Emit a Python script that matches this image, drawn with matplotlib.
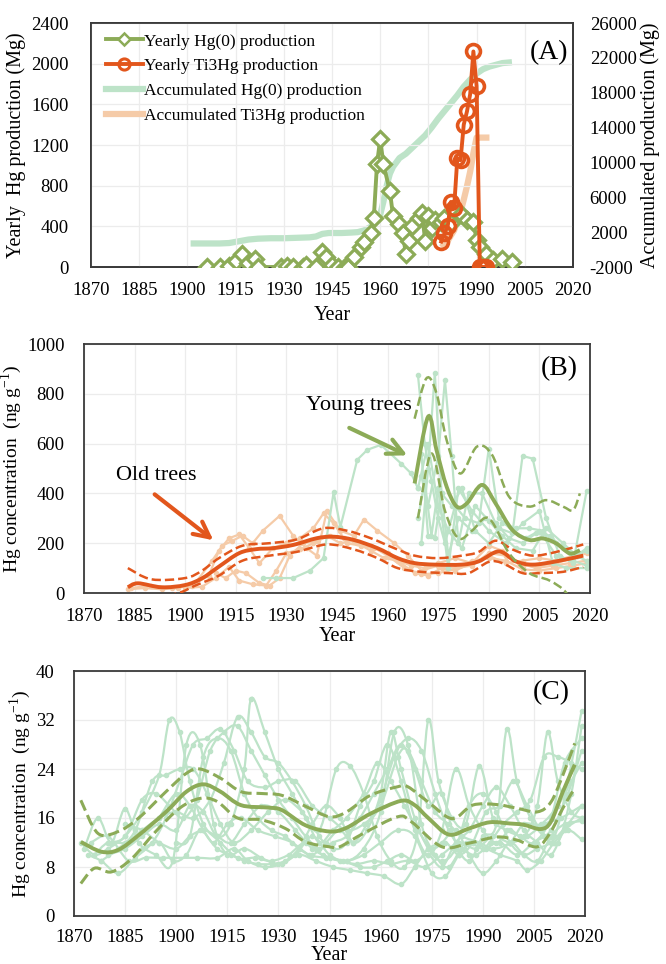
import matplotlib
matplotlib.use("Agg")
import matplotlib.pyplot as plt
from matplotlib.lines import Line2D
from matplotlib.path import Path
from matplotlib.patches import PathPatch

# ============================== data =========================================

# (A) production
hg0_year = [1906, 1910, 1913, 1915, 1917, 1919, 1921, 1922, 1929, 1931, 1933, 1936, 1937, 1940,
            1942, 1943, 1945, 1947, 1949, 1950, 1952, 1954, 1955, 1957, 1958, 1959, 1960, 1961,
            1963, 1964, 1966, 1967, 1968, 1969, 1970, 1972, 1973, 1974, 1975, 1976, 1977, 1979,
            1980, 1982, 1985, 1987, 1989, 1990, 1991, 1993, 1995, 1998, 2001]
hg0_prod = [0, 0, 10, 60, 130, 40, 80, 0, 0, 10, 0, 0, 20, 0,
            150, 100, 20, 0, 0, 0, 100, 200, 250, 330, 480, 1010, 1260, 1010,
            750, 500, 420, 330, 130, 260, 400, 480, 530, 260, 500, 380, 460, 440,
            480, 430, 520, 460, 440, 270, 200, 130, 70, 80, 50]

ti_year = [1979, 1980, 1981, 1982, 1983, 1984, 1985, 1986, 1987, 1988, 1989, 1990, 1991, 1992, 1993]
ti_prod = [250, 330, 400, 640, 580, 1070, 1050, 1400, 1530, 1700, 2120, 1780, 0, 0, 0]

acc_hg0_year = [1901, 1905, 1910, 1913, 1916, 1919, 1922, 1926, 1930, 1934, 1938, 1940, 1942, 1944,
                1948, 1951, 1953, 1955, 1957, 1958, 1959, 1960, 1961, 1962, 1963, 1964, 1966, 1968,
                1970, 1972, 1974, 1976, 1978, 1980, 1982, 1984, 1986, 1988, 1990, 1992, 1994, 1996,
                1998, 2001]
acc_hg0 = [700, 700, 700, 750, 950, 1150, 1250, 1300, 1300, 1350, 1400, 1500, 1800, 1900,
           1900, 1950, 2000, 2200, 2600, 3000, 3500, 4000, 5500, 7300, 8700, 9500, 10500, 11000,
           11700, 12400, 13100, 14000, 15000, 15900, 16800, 17700, 18700, 19500, 20200, 20700, 21000, 21200,
           21400, 21500]

acc_ti_year = [1979, 1980, 1981, 1982, 1983, 1984, 1985, 1986, 1987, 1988, 1989, 1990, 1991, 1992, 1993, 1994]
acc_ti = [250, 580, 980, 1620, 2200, 3270, 4320, 5720, 7250, 8950, 11070, 12850, 12850, 12850, 12850, 12850]

# (B) old trees, individual
old_1_year = [1883, 1888, 1893, 1898, 1903, 1908, 1911, 1914, 1917, 1920, 1923, 1928, 1932, 1936, 1939,
              1942, 1946, 1950, 1953, 1957, 1962, 1966, 1970, 1975, 1980, 1985, 1990, 1995, 2000,
              2005, 2010, 2015, 2019]
old_1 = [15, 20, 15, 20, 40, 130, 190, 210, 230, 200, 250, 310, 230, 180, 150,
         330, 250, 230, 295, 250, 200, 150, 90, 110, 100, 110, 160, 150, 110,
         110, 120, 140, 160]
old_2_year = [1884, 1890, 1896, 1902, 1907, 1910, 1913, 1916, 1919, 1922, 1926, 1930, 1934, 1938, 1941,
              1944, 1948, 1952, 1956, 1960, 1964, 1968, 1972, 1976, 1980, 1985, 1990, 1994, 1999,
              2004, 2009, 2014, 2019]
old_2 = [20, 30, 20, 30, 70, 170, 220, 235, 180, 120, 180, 200, 220, 260, 320,
         280, 200, 190, 180, 160, 120, 80, 70, 100, 90, 120, 190, 170, 120,
         100, 110, 120, 130]
old_3_year = [1900, 1905, 1909, 1913, 1916, 1920, 1924, 1927, 1930, 1934, 1938, 1942, 1946, 1950, 1955,
              1960, 1965, 1970, 1975, 1980, 1985, 1990, 1995, 2000, 2005, 2010, 2015, 2019]
old_3 = [20, 25, 60, 105, 50, 35, 30, 90, 160, 175, 200, 230, 200, 210, 190,
         150, 100, 75, 80, 95, 130, 140, 130, 95, 90, 100, 110, 120]
old_4_year = [1909, 1912, 1915, 1918, 1922, 1925, 1928, 1931, 1935, 1939, 1943, 1947, 1951, 1955, 1959,
              1963, 1967, 1971, 1975, 1980, 1985, 1990, 1995, 2000, 2005, 2010, 2015, 2019]
old_4 = [80, 60, 90, 80, 40, 30, 60, 150, 200, 210, 230, 220, 200, 170, 140,
         130, 110, 100, 120, 140, 120, 150, 120, 130, 140, 130, 150, 170]

# (B) old trees, mean and confidence band
old_mean_year = [1883, 1886, 1893, 1900, 1905, 1910, 1916, 1921, 1926, 1932, 1939, 1944, 1950, 1957,
                 1963, 1968, 1974, 1982, 1987, 1993, 1998, 2003, 2010, 2018]
old_mean = [23, 39, 23, 32, 59, 106, 160, 176, 180, 193, 220, 226, 213, 180,
            140, 120, 114, 114, 127, 167, 127, 114, 127, 150]
old_up_year = [1883, 1890, 1900, 1905, 1910, 1917, 1925, 1933, 1941, 1948, 1955, 1962, 1968, 1975,
               1982, 1987, 1992, 1997, 2003, 2010, 2018]
old_up = [100, 55, 60, 90, 140, 190, 200, 215, 260, 250, 220, 180, 150, 140,
          150, 165, 210, 175, 150, 165, 195]
old_lo_year = [1883, 1890, 1898, 1903, 1910, 1917, 1925, 1933, 1942, 1950, 1957, 1963, 1970, 1978,
               1984, 1990, 1994, 2000, 2005, 2012, 2018]
old_lo = [-10, -20, 0, 30, 70, 130, 150, 165, 195, 175, 140, 100, 85, 80,
          80, 125, 120, 80, 80, 85, 105]

# (B) young trees, individual
young_0_year = [1923, 1927, 1932, 1937, 1941, 1944, 1946, 1951, 1954, 1958, 1964, 1967, 1969]
young_0 = [60, 60, 60, 90, 140, 405, 265, 535, 575, 595, 520, 480, 420]
young_1_year = [1969, 1971, 1973, 1975, 1977, 1980, 1983, 1987, 1990, 1993, 1997, 2001, 2005, 2010, 2015, 2019]
young_1 = [875, 600, 450, 300, 200, 350, 300, 280, 580, 300, 250, 220, 250, 150, 130, 110]
young_2_year = [1970, 1972, 1974, 1976, 1978, 1981, 1985, 1989, 1993, 1997, 2000, 2003, 2007, 2011, 2015, 2019]
young_2 = [200, 500, 885, 400, 150, 300, 250, 300, 260, 240, 550, 540, 300, 150, 120, 410]
young_3_year = [1970, 1972, 1975, 1977, 1979, 1981, 1984, 1988, 1992, 1996, 2000, 2004, 2008, 2012, 2016, 2019]
young_3 = [470, 350, 550, 855, 550, 200, 400, 400, 280, 220, 200, 240, 230, 180, 150, 180]
young_4_year = [1970, 1972, 1974, 1976, 1979, 1982, 1986, 1990, 1994, 1998, 2002, 2006, 2010, 2014, 2019]
young_4 = [560, 230, 220, 400, 350, 420, 250, 200, 280, 260, 260, 250, 200, 160, 130]
young_5_year = [1969, 1971, 1973, 1975, 1978, 1981, 1985, 1990, 1995, 2000, 2005, 2009, 2013, 2019]
young_5 = [300, 450, 230, 420, 100, 420, 330, 250, 200, 280, 330, 120, 100, 100]
young_6_year = [1969, 1972, 1975, 1978, 1982, 1986, 1990, 1994, 1998, 2003, 2007, 2012, 2016, 2019]
young_6 = [420, 600, 350, 250, 180, 350, 290, 230, 180, 170, 260, 200, 150, 170]

# (B) young trees, mean and confidence band
young_mean_year = [1968, 1972, 1974.5, 1977.5, 1980.5, 1983.5, 1988, 1992, 1997, 2002, 2006, 2010, 2014, 2017]
young_mean = [440, 708, 574, 427, 347, 360, 434, 360, 253, 213, 219, 199, 159, 172]
young_up_year = [1968, 1971.5, 1974.5, 1977.5, 1981.5, 1986.5, 1991, 1996, 2002, 2007, 2012, 2015, 2017]
young_up = [700, 862, 802, 614, 480, 588, 554, 387, 347, 373, 347, 333, 400]
young_lo_year = [1969, 1973, 1977, 1981, 1985, 1990, 1996, 2002, 2008, 2013, 2017]
young_lo = [300, 560, 330, 220, 250, 300, 160, 80, 50, 0, -100]

# (C) individual trees
c_1_year = [1872, 1876, 1880, 1885, 1890, 1895, 1898, 1901, 1904, 1908, 1913, 1918, 1923, 1928, 1933, 1938,
            1943, 1948, 1953, 1958, 1963, 1968, 1973, 1978, 1983, 1988, 1993, 1998, 2003, 2008, 2013, 2019]
c_1 = [12, 10, 11, 13, 17, 23, 32, 30, 22, 15, 12, 9.5, 9.5, 9, 10, 12,
       10, 9, 8.5, 9, 8.5, 9, 8, 10, 12, 11, 13, 12, 13, 15, 16, 18]
c_2_year = [1873, 1877, 1881, 1885, 1889, 1894, 1899, 1903, 1907, 1911, 1915, 1920, 1925, 1930, 1935, 1940,
            1945, 1950, 1955, 1960, 1964, 1968, 1972, 1976, 1980, 1985, 1990, 1995, 2000, 2005, 2010, 2015, 2019]
c_2 = [11, 16, 12, 17.5, 12, 10, 9, 28, 28, 15, 10, 11, 9.5, 8.5, 10, 13,
       10, 9, 11, 17, 30, 28, 15, 10, 8, 12, 11, 12, 10, 12, 14, 20, 27]
c_3_year = [1874, 1878, 1883, 1888, 1893, 1897, 1901, 1905, 1909, 1913, 1917, 1921, 1926, 1930, 1935, 1940,
            1945, 1950, 1955, 1960, 1965, 1968, 1972, 1976, 1980, 1984, 1989, 1993, 1998, 2002, 2007, 2012,
            2016, 2019]
c_3 = [10, 9, 7, 9.5, 12, 16, 22, 28, 29, 30.5, 27, 22, 21, 22, 22, 18,
       16, 14, 15, 18, 26, 27, 22, 17, 15, 13, 12, 11, 12, 15, 15, 18, 22, 25]
c_4_year = [1875, 1880, 1886, 1891, 1896, 1906, 1912, 1917, 1921, 1926, 1931, 1936, 1941, 1946, 1951, 1956,
            1961, 1966, 1970, 1974, 1978, 1982, 1986, 1990, 1994, 1998, 2002, 2006, 2010, 2014, 2019]
c_4 = [12, 13, 9, 9.5, 9.5, 9.5, 9.5, 11, 9, 8, 8.5, 10, 9, 8, 7.5, 7,
       6.5, 5.2, 8, 11, 12, 14, 10, 7, 9, 12, 10, 9, 13, 15, 15.5]
c_5_year = [1876, 1880, 1885, 1890, 1895, 1900, 1905, 1910, 1914, 1918, 1922, 1926, 1930, 1934, 1938, 1942,
            1946, 1950, 1954, 1958, 1962, 1966, 1970, 1974, 1978, 1982, 1986, 1990, 1994, 1998, 2002, 2006,
            2009, 2012, 2016, 2019]
c_5 = [10, 12, 12, 14, 16, 17, 16, 19, 25, 32.5, 30, 26, 25, 22, 18, 13,
       11, 12, 18, 22, 28, 22, 14, 10, 14, 24, 18, 14, 12, 14, 13, 18, 30, 22, 17, 16]
c_6_year = [1880, 1885, 1890, 1895, 1900, 1904, 1908, 1912, 1916, 1920, 1922, 1926, 1930, 1934, 1938, 1942,
            1946, 1950, 1955, 1959, 1963, 1967, 1971, 1975, 1979, 1983, 1987, 1991, 1995, 1999, 2003, 2007,
            2011, 2015, 2019]
c_6 = [10, 11, 13, 15, 14, 18, 17, 13, 15, 24, 35.5, 30, 24, 20, 16, 12,
       14, 16, 20, 25, 22, 18, 14, 11, 12, 10, 12, 17, 18, 22, 18, 14, 13, 22, 33.5]
c_7_year = [1878, 1883, 1888, 1893, 1897, 1901, 1905, 1909, 1913, 1917, 1922, 1927, 1932, 1937, 1942, 1947,
            1951, 1955, 1959, 1963, 1967, 1971, 1974, 1977, 1981, 1985, 1989, 1993, 1997, 2001, 2005, 2010,
            2014, 2019]
c_7 = [9, 11, 14, 22, 23, 24, 24, 20, 15, 12, 14, 17, 19, 17, 14, 24,
       24.5, 20, 13, 9, 8, 14, 32, 22, 16, 15, 24.5, 16, 14, 13, 12, 16, 25, 29]
c_8_year = [1880, 1885, 1890, 1894, 1898, 1902, 1906, 1910, 1914, 1918, 1922, 1926, 1930, 1934, 1938, 1942,
            1946, 1950, 1954, 1958, 1962, 1966, 1970, 1974, 1978, 1982, 1986, 1990, 1994, 1997, 2000, 2004,
            2008, 2012, 2016, 2019]
c_8 = [12, 13, 19, 20, 18, 16, 19, 27, 30, 31, 27, 23, 19, 16, 13, 11,
       12, 13, 16, 20, 24, 28, 24, 18, 20, 12, 9, 13, 15, 30.5, 22, 16, 13, 12, 20, 31]
c_9_year = [1885, 1890, 1895, 1900, 1904, 1908, 1912, 1916, 1920, 1925, 1930, 1935, 1940, 1945, 1950, 1955,
            1960, 1965, 1970, 1975, 1979, 1983, 1987, 1991, 1995, 2000, 2003, 2007, 2011, 2015, 2019]
c_9 = [15, 14, 12, 11, 13, 14, 13, 12, 15, 18, 17, 14, 11, 9.5, 9, 10,
       12, 14, 13, 7, 6.5, 10, 12, 11, 10, 9, 7.5, 9, 12, 14, 12.5]
c_10_year = [1890, 1895, 1899, 1903, 1907, 1911, 1915, 1919, 1924, 1929, 1934, 1939, 1944, 1949, 1954, 1958,
             1962, 1966, 1970, 1974, 1978, 1982, 1986, 1990, 1994, 1998, 2002, 2006, 2010, 2014, 2019]
c_10 = [11, 12, 9, 10, 14, 12, 15, 16, 14, 13, 12, 10, 9.5, 9, 8, 8,
        9, 10, 9, 10, 8, 12, 14, 18, 21, 18, 14, 12, 10, 14, 16]
c_11_year = [1900, 1904, 1908, 1912, 1916, 1920, 1924, 1928, 1932, 1936, 1940, 1944, 1948, 1952, 1956, 1960,
             1964, 1968, 1972, 1976, 1980, 1984, 1988, 1992, 1996, 2000, 2004, 2008, 2012, 2016, 2019]
c_11 = [12, 13, 26, 29, 27, 20, 16, 14, 13, 11, 10, 12, 14, 12, 15, 19,
        26, 29, 27, 20, 14, 11, 10, 12, 15, 17, 19, 26, 26, 25, 24]
c_12_year = [1895, 1900, 1904, 1908, 1912, 1916, 1920, 1924, 1928, 1932, 1936, 1940, 1944, 1948, 1952, 1956,
             1960, 1963, 1966, 1970, 1974, 1978, 1982, 1986, 1990, 1994, 1998, 2002, 2006, 2010, 2015, 2019]
c_12 = [16, 20, 18, 14, 11, 10, 9, 8.5, 8.5, 9, 11, 15, 18, 16, 12, 14,
        20, 30, 24, 16, 11, 9, 11, 18, 20, 17, 12, 10, 11, 12, 15, 18]

# (C) mean and confidence band
c_mean_year = [1872, 1878, 1883, 1889, 1897, 1903, 1908, 1913, 1919, 1927, 1931, 1938, 1945, 1950,
               1957, 1966, 1970, 1974, 1980, 1986, 1992, 1998, 2002, 2007, 2010, 2013.5, 2017]
c_mean = [12.1, 10.5, 10.8, 13.2, 17.0, 20.3, 21.5, 20.3, 18.1, 17.7, 17.3, 14.8, 13.8, 14.4,
          16.7, 18.8, 18.1, 16.0, 13.3, 14.3, 15.3, 15.1, 14.9, 14.2, 15.4, 20.3, 24.7]
c_up_year = [1872, 1877, 1883, 1889, 1897, 1903, 1907, 1913, 1919, 1925, 1931, 1938, 1945, 1950,
             1957, 1965, 1968, 1974, 1981, 1987, 1994, 2000, 2006, 2010, 2013.5, 2017]
c_up = [18.9, 13.5, 13.8, 16.0, 20.3, 23.3, 24.0, 22.5, 20.3, 20.0, 19.7, 17.9, 16.2, 17.0,
        19.7, 21.1, 21.1, 18.6, 15.9, 18.1, 18.2, 17.6, 17.0, 18.6, 23.0, 28.2]
c_lo_year = [1872, 1876, 1881, 1887, 1894, 1901, 1907, 1912, 1918, 1925, 1932, 1938, 1945, 1948,
             1955, 1965, 1969, 1978, 1986, 1994, 2000, 2006, 2010, 2013.5, 2017]
c_lo = [5.3, 7.8, 7.2, 9.4, 13.8, 17.6, 19.2, 18.7, 16.0, 15.7, 14.3, 12.1, 11.3, 11.3,
        13.5, 16.2, 15.4, 11.3, 11.9, 12.9, 12.4, 11.3, 13.8, 17.6, 20.9]

# ============================== style ========================================

GREEN = "#8cab57"
ORANGE = "#e2561c"
LIGHT_GREEN = "#bde3c8"
LIGHT_ORANGE = "#f5cba8"
GRID = "#ececec"
SPINE = "#3a3a3a"

TICK_FS = 13.5
LABEL_FS = 14.5

plt.rcParams.update({'font.family': 'Liberation Serif', 'font.size': TICK_FS,
                     'mathtext.fontset': 'stix', 'axes.unicode_minus': False})

YEAR_TICKS = list(range(1870, 2021, 15))


def style_axis(ax, ypad, xpad, xlabelpad):
    ax.set_xlim(1870, 2020)
    ax.set_xticks(YEAR_TICKS)
    ax.grid(color=GRID, linewidth=0.9)
    ax.set_axisbelow(True)
    ax.tick_params(axis='x', length=0, pad=xpad)
    ax.tick_params(axis='y', length=0, pad=ypad)
    for s in ax.spines.values():
        s.set_color(SPINE)
        s.set_linewidth(1.3)
    ax.set_xlabel("Year", fontsize=LABEL_FS, labelpad=xlabelpad)


def smooth_line(ax, xs, ys, **kw):
    # draws a smoothed line (like a spreadsheet "smoothed line") through the points
    verts = [(xs[0], ys[0])]
    codes = [Path.MOVETO]
    n = len(xs)
    for i in range(n - 1):
        x0, y0 = (xs[i - 1], ys[i - 1]) if i > 0 else (xs[i], ys[i])
        x1, y1 = xs[i], ys[i]
        x2, y2 = xs[i + 1], ys[i + 1]
        x3, y3 = (xs[i + 2], ys[i + 2]) if i + 2 < n else (x2, y2)
        verts += [(x1 + (x2 - x0) / 6, y1 + (y2 - y0) / 6),
                  (x2 - (x3 - x1) / 6, y2 - (y3 - y1) / 6),
                  (x2, y2)]
        codes += [Path.CURVE4] * 3
    ax.add_patch(PathPatch(Path(verts, codes), fill=False, **kw))


def draw_tree(ax, years, vals, color, smooth=False):
    if smooth:
        smooth_line(ax, years, vals, edgecolor=color, lw=1.6, zorder=2)
        ax.plot(years, vals, 'o', color=color, markersize=3, zorder=2)
    else:
        ax.plot(years, vals, '-o', color=color, lw=1.6, markersize=3, zorder=2)


fig = plt.figure(figsize=(6.66, 9.64), dpi=100)

# ============================== panel A ======================================

axA = fig.add_axes([91/666, 1-267/964, 482/666, 244/964])
axA2 = axA.twinx()
style_axis(axA, 16, 11, 5)
axA2.tick_params(length=0, pad=12)
for s in axA2.spines.values():
    s.set_color(SPINE)
    s.set_linewidth(1.3)

axA2.plot(acc_hg0_year, acc_hg0, color=LIGHT_GREEN, lw=4.5, solid_capstyle='butt')
axA2.plot(acc_ti_year, acc_ti, color=LIGHT_ORANGE, lw=4.5, solid_capstyle='butt')
axA.plot(hg0_year, hg0_prod, '-D', color=GREEN, lw=2.8, markersize=8.5, mfc='white', mew=2.3, zorder=3)
axA.plot(ti_year, ti_prod, '-o', color=ORANGE, lw=2.8, markersize=10, mfc='none', mew=2.6, zorder=4)

axA.set_zorder(axA2.get_zorder() + 1)
axA.patch.set_visible(False)

axA.set_ylim(0, 2400)
axA.set_yticks(range(0, 2401, 400))
axA2.set_ylim(-2000, 26000)
axA2.set_yticks(range(-2000, 26001, 4000))
axA.set_ylabel("Yearly  Hg production (Mg)", fontsize=LABEL_FS, labelpad=4)
axA2.set_ylabel("Accumulated production (Mg)", fontsize=LABEL_FS, labelpad=3)
axA.text(0.99, 0.93, "(A)", transform=axA.transAxes, ha='right', va='top', fontsize=20)

handles = [Line2D([], [], color=GREEN, lw=2.8, marker='D', markersize=6, mfc='white', mew=1.8),
           Line2D([], [], color=ORANGE, lw=2.8, marker='o', markersize=8, mfc='none', mew=2.2),
           Line2D([], [], color=LIGHT_GREEN, lw=4.5),
           Line2D([], [], color=LIGHT_ORANGE, lw=4.5)]
labels = ["Yearly Hg(0) production", "Yearly Ti3Hg production",
          "Accumulated Hg(0) production", "Accumulated Ti3Hg production"]
axA.legend(handles, labels, loc='upper left', bbox_to_anchor=(0.01, 1.0), frameon=False,
           fontsize=12.5, handlelength=2.1, handletextpad=0.05, labelspacing=0.5, borderaxespad=0.2)

# ============================== panel B ======================================

axB = fig.add_axes([84/666, 1-593/964, 506/666, 249/964])
style_axis(axB, 14, 11, 1)

for yr, v in [(old_1_year, old_1), (old_2_year, old_2), (old_3_year, old_3), (old_4_year, old_4)]:
    draw_tree(axB, yr, v, LIGHT_ORANGE)
for yr, v in [(young_0_year, young_0), (young_1_year, young_1), (young_2_year, young_2),
              (young_3_year, young_3), (young_4_year, young_4), (young_5_year, young_5),
              (young_6_year, young_6)]:
    draw_tree(axB, yr, v, LIGHT_GREEN)

smooth_line(axB, old_mean_year, old_mean, edgecolor=ORANGE, lw=2.8, zorder=4)
smooth_line(axB, old_up_year, old_up, edgecolor=ORANGE, lw=1.8, linestyle='--', zorder=4)
smooth_line(axB, old_lo_year, old_lo, edgecolor=ORANGE, lw=1.8, linestyle='--', zorder=4)
smooth_line(axB, young_mean_year, young_mean, edgecolor=GREEN, lw=2.8, zorder=4)
smooth_line(axB, young_up_year, young_up, edgecolor=GREEN, lw=1.8, linestyle='--', zorder=4)
smooth_line(axB, young_lo_year, young_lo, edgecolor=GREEN, lw=1.8, linestyle='--', zorder=4)

axB.set_ylim(0, 1000)
axB.set_yticks(range(0, 1001, 200))
axB.set_ylabel("Hg concentration  (ng g$^{\\mathregular{-1}}$)", fontsize=14, labelpad=2)
axB.text(0.976, 0.90, "(B)", transform=axB.transAxes, ha='right', va='center', fontsize=20)

axB.annotate("", xy=(1909, 205), xytext=(1890.3, 403),
             arrowprops=dict(arrowstyle='->', color=ORANGE, lw=3, mutation_scale=28))
axB.text(1891.5, 470, "Old trees", ha='center', va='center', fontsize=16)
axB.annotate("", xy=(1966.6, 548), xytext=(1947.9, 668),
             arrowprops=dict(arrowstyle='->', color=GREEN, lw=3, mutation_scale=28))
axB.text(1951.5, 755, "Young trees", ha='center', va='center', fontsize=16)

# ============================== panel C ======================================

axC = fig.add_axes([74/666, 1-916/964, 511/666, 245/964])
style_axis(axC, 14, 9, 0)

for yr, v in [(c_1_year, c_1), (c_2_year, c_2), (c_3_year, c_3), (c_4_year, c_4),
              (c_5_year, c_5), (c_6_year, c_6), (c_7_year, c_7), (c_8_year, c_8),
              (c_9_year, c_9), (c_10_year, c_10), (c_11_year, c_11), (c_12_year, c_12)]:
    draw_tree(axC, yr, v, LIGHT_GREEN, smooth=True)

smooth_line(axC, c_mean_year, c_mean, edgecolor=GREEN, lw=2.8, zorder=4)
smooth_line(axC, c_up_year, c_up, edgecolor=GREEN, lw=2.2, linestyle='--', zorder=4)
smooth_line(axC, c_lo_year, c_lo, edgecolor=GREEN, lw=2.2, linestyle='--', zorder=4)

axC.set_ylim(0, 40)
axC.set_yticks(range(0, 41, 8))
axC.set_ylabel("Hg concentration  (ng g$^{\\mathregular{-1}}$)", fontsize=14, labelpad=2)
axC.text(0.971, 0.91, "(C)", transform=axC.transAxes, ha='right', va='center', fontsize=20)

plt.savefig("out.png", dpi=100)
